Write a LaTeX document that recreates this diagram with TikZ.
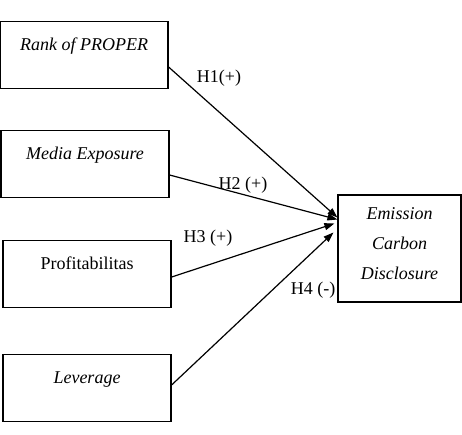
\documentclass[tikz,border=0pt]{standalone}
\usepackage{fontspec}
\setmainfont{Liberation Serif}
\usetikzlibrary{arrows.meta}

\begin{document}
\begin{tikzpicture}[x=1pt,y=-1pt,
    varbox/.style={draw, line width=1.2pt, inner sep=0pt, minimum width=168pt,
      text height=29pt, text depth=38pt, font=\fontsize{18}{21.6}\selectfont},
    hyp/.style={font=\fontsize{18}{21.6}\selectfont, inner sep=0pt},
    link/.style={-{Triangle[length=10pt,width=7pt]}, line width=1.2pt}]
  \useasboundingbox (0,0) rectangle (462,434);
  % independent variables
  \node[varbox] (rank) at (84,55) {\textit{Rank of PROPER}};
  \node[varbox] (media) at (85,164) {\textit{Media Exposure}};
  \node[varbox] (profit) at (87,274) {Profitabilitas};
  \node[varbox] (lev) at (87,388) {\textit{Leverage}};
  % dependent variable
  \node[varbox, minimum width=123pt, align=center, text height=84pt, text depth=23pt,
    font=\fontsize{18}{30}\selectfont] (ecd) at (399.5,248.5)
    {\textit{Emission}\\\textit{Carbon}\\\textit{Disclosure}};
  \begin{scope}[every path/.style={link}]
    \draw ([yshift=-12pt]rank.east) -- ([yshift=31pt]ecd.west);
    \draw ([yshift=-11pt]media.east) -- ([yshift=29pt]ecd.west);
    \draw ([yshift=-3pt]profit.east) -- ([xshift=-3pt,yshift=25pt]ecd.west);
    \draw ([yshift=3pt]lev.east) -- ([xshift=-4pt,yshift=16pt]ecd.west);
  \end{scope}
  \node[hyp] (h1) at (219,78) {H1(+)};
  \node[hyp] (h2) at (243,185) {H2 (+)};
  \node[hyp] (h3) at (208,238) {H3 (+)};
  \node[hyp] (h4) at (313,290) {H4 (-)};
\end{tikzpicture}
\end{document}
